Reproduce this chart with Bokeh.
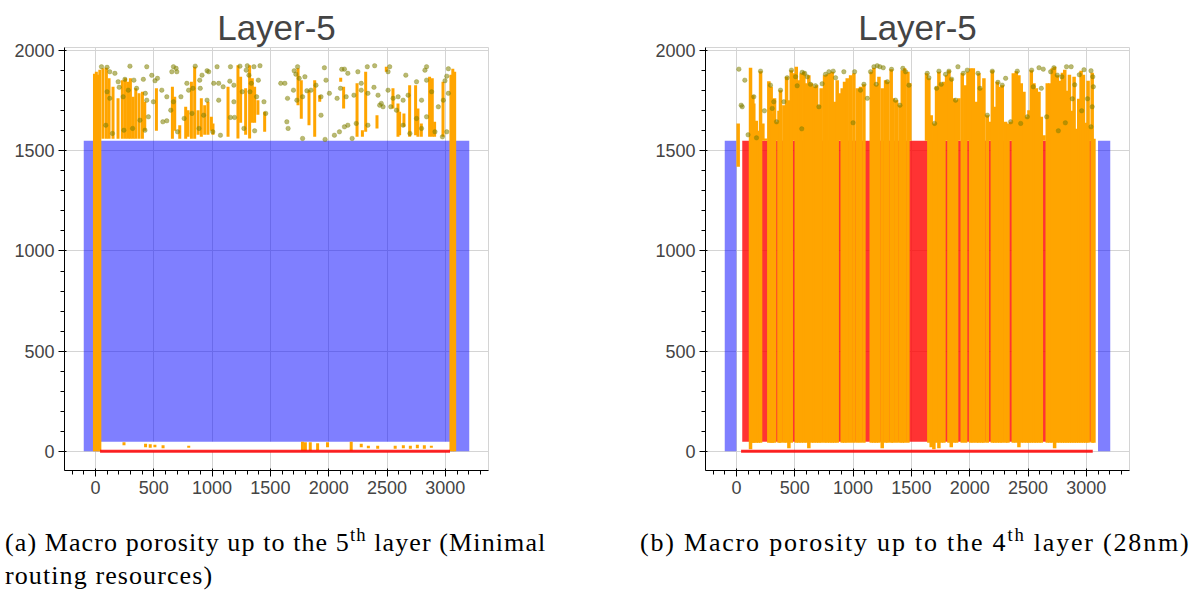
from bokeh.plotting import figure
from bokeh.models import Range1d, Div, ColumnDataSource, SingleIntervalTicker
from bokeh.layouts import column, row
from bokeh.embed import file_html
from bokeh.resources import INLINE

# ---------------- data ----------------
titles = ["Layer-5", "Layer-5"]
captions = [
    "(a) Macro porosity up to the 5<sup>th</sup> layer (Minimal<br>routing resources)",
    "(b) Macro porosity up to the 4<sup>th</sup> layer (28nm)",
]

# blue macro areas (left, right, bottom, top)
a_blue_left = [-100]
a_blue_right = [3205]
a_blue_bottom = [0]
a_blue_top = [1550]
b_blue_left = [-100, 3100]
b_blue_right = [0, 3205]
b_blue_bottom = [0, 0]
b_blue_top = [1550, 1550]

# white band (chart a) and red area (chart b)
a_white_left = [40]
a_white_right = [3040]
a_white_bottom = [0]
a_white_top = [48]
b_red_left = [50]
b_red_right = [3060]
b_red_bottom = [48]
b_red_top = [1550]

# red base line
a_base_x0 = [40]
a_base_x1 = [3040]
b_base_x0 = [40]
b_base_x1 = [3055]
base_y = [0]

# chart a orange segments
a_seg_x = [-8, 8, 24, 38,
           65, 94, 117, 151, 194, 231, 257, 280, 300, 323, 346, 374, 403, 423, 523, 660, 680, 723, 774, 794,
           823, 851, 880, 908, 937, 965, 994, 1008, 1137, 1222, 1245, 1288, 1322, 1345, 1365, 1393, 1451,
           1737, 1765, 1831, 1880, 1923, 2103, 2128, 2243, 2289, 2317, 2414, 2494, 2551, 2594, 2608, 2645,
           2694, 2745, 2765, 2794, 2865, 2888, 2908, 2980,
           3048, 3064, 3080,
           245, 430, 470, 510, 580, 800, 1775, 1800, 1842, 1905, 1990, 2193, 2279, 2340, 2420, 2570, 2640,
           2700, 2760, 2820, 2880]
a_seg_y0 = [0, 0, 0, 0,
            1560, 1560, 1560, 1560, 1560, 1560, 1560, 1560, 1560, 1560, 1560, 1560, 1560, 1600, 1600, 1560, 1600, 1560, 1560, 1570,
            1560, 1560, 1580, 1570, 1580, 1580, 1600, 1580, 1570, 1562, 1640, 1580, 1562, 1640, 1640, 1680, 1595,
            1728, 1660, 1628, 1570, 1745, 1845, 1712, 1570, 1570, 1595, 1612, 1895, 1712, 1570, 1578, 1620,
            1570, 1578, 1570, 1570, 1570, 1570, 1570, 1570,
            0, 0, 0,
            30, 20, 18, 20, 15, 18, 3, 3, 3, 5, 20, 3, 20, 15, 12, 12, 15,
            12, 15, 12, 18]
a_seg_y1 = [1885, 1895, 1880, 1905,
            1912, 1915, 1862, 1820, 1762, 1853, 1862, 1845, 1862, 1770, 1812, 1787, 1795, 1745, 1812, 1820, 1770, 1628, 1720, 1703,
            1845, 1920, 1703, 1762, 1728, 1745, 1670, 1637, 1820, 1928, 1870, 1812, 1928, 1862, 1820, 1753, 1695,
            1912, 1853, 1803, 1853, 1778, 1865, 1820, 1837, 1603, 1895, 1678, 1920, 1812, 1737, 1695, 1687,
            1828, 1828, 1712, 1637, 1870, 1862, 1645, 1845,
            1880, 1910, 1895,
            45, 38, 35, 32, 30, 28, 48, 45, 45, 40, 45, 48, 37, 28, 28, 28, 30,
            28, 32, 30, 28]

# chart a points
a_dot_x = [52, 100, 296, 440, 669, 692, 856, 957, 1043, 1158, 1239, 1302, 1359, 1411, 1733, 1704, 1963, 2135,
           2331, 2394, 2523, 2839, 2825, 3026,
           123, 167, 195, 253, 330, 411, 483, 532, 511, 655, 698, 784, 894, 914, 971, 1014, 1057, 1152, 1187,
           1293, 1316, 1336, 1397, 1624, 1718, 1747, 1796, 1813, 1891, 1977, 2112, 2164, 2250, 2279, 2388, 2509,
           2661, 2753, 2839, 2997, 3012,
           100, 123, 204, 238, 282, 353, 428, 440, 497, 569, 612, 669, 733, 799, 836, 899, 957, 1057, 1095, 1187,
           1259, 1325, 1382, 1445, 1589, 1647, 1698, 1727, 1776, 1848, 1934, 2006, 2072, 2101, 2150, 2216, 2279,
           2336, 2423, 2451, 2509, 2552, 2595, 2638, 2681, 2796, 2882, 2940, 2983, 3026,
           89, 146, 244, 319, 382, 425, 454, 578, 612, 646, 704, 761, 828, 888, 928, 1006, 1072, 1158, 1193, 1273,
           1365, 1460, 1641, 1652, 1776, 1934, 1969, 2049, 2092, 2135, 2164, 2201, 2236, 2336, 2437, 2466, 2532,
           2581, 2638, 2696, 2753, 2796, 2839, 2911, 2975, 3012]
a_dot_y = [1920, 1917, 1923, 1920, 1920, 1912, 1923, 1900, 1920, 1920, 1923, 1925, 1920, 1925, 1920, 1900, 1915, 1908,
           1920, 1925, 1920, 1920, 1903, 1910,
           1895, 1887, 1845, 1857, 1853, 1857, 1877, 1862, 1850, 1895, 1895, 1837, 1853, 1878, 1895, 1837, 1837, 1848, 1828,
           1903, 1878, 1837, 1853, 1837, 1883, 1862, 1870, 1800, 1828, 1853, 1907, 1887, 1895, 1837, 1817, 1895,
           1878, 1845, 1853, 1850, 1873,
           1795, 1762, 1817, 1770, 1803, 1812, 1787, 1753, 1745, 1803, 1770, 1745, 1770, 1803, 1812, 1812, 1753, 1753, 1820, 1745,
           1795, 1795, 1770, 1745, 1837, 1762, 1803, 1753, 1770, 1803, 1770, 1787, 1762, 1812, 1770, 1778, 1803,
           1787, 1778, 1737, 1803, 1762, 1770, 1753, 1778, 1753, 1795, 1720, 1753, 1787,
           1628, 1587, 1603, 1612, 1653, 1603, 1670, 1645, 1650, 1703, 1595, 1662, 1687, 1612, 1678, 1595, 1578, 1667, 1667, 1612,
           1600, 1687, 1645, 1612, 1562, 1678, 1557, 1578, 1595, 1620, 1628, 1562, 1637, 1628, 1728, 1720, 1720,
           1703, 1628, 1587, 1662, 1612, 1670, 1595, 1570, 1595]

# chart b orange segments
b_seg_x = [15, 121, 141, 149, 170, 188, 207, 227, 250, 278, 298, 307, 327, 344, 365, 378, 407, 430, 450, 470, 493,
           513, 535, 555, 578, 601, 621, 644, 664, 687, 707, 727, 756, 778, 801, 821, 841, 864, 884, 907, 927, 950,
           979, 1007, 1036, 1064, 1093,
           1156, 1179, 1199, 1222, 1250, 1279, 1299, 1327, 1344, 1373, 1402, 1422, 1442, 1470, 1487,
           1630, 1650, 1670, 1693, 1716, 1736, 1756, 1779, 1802, 1822, 1842, 1865, 1888, 1908, 1936, 1965, 1985,
           2008, 2031, 2059, 2079, 2102, 2122, 2151, 2174, 2194, 2214, 2236, 2259, 2279, 2308, 2328, 2351, 2374,
           2399, 2422, 2442, 2465, 2488, 2508, 2528, 2551, 2571, 2594, 2614, 2637, 2665, 2688, 2708, 2728, 2751,
           2775, 2795, 2815, 2835, 2855, 2875, 2895, 2915, 2935, 2955, 2975, 2995, 3015, 3035, 3050, 3065]
b_seg_y0 = [1420, 10, 42, 42, 42, 42, 42, 1550, 1550, 42, 42, 42, 42, 1550, 42, 42, 42, 42, 15, 42, 1550,
            42, 42, 42, 42, 42, 15, 42, 42, 42, 42, 42, 42, 42, 42, 42, 42, 42, 1550, 42, 42, 42,
            42, 42, 42, 42, 42,
            42, 42, 42, 42, 15, 42, 42, 42, 42, 42, 42, 42, 42, 42, 1550,
            1550, 42, 20, 10, 42, 15, 42, 42, 1550, 42, 20, 42, 42, 1550, 42, 42, 1550,
            42, 42, 42, 42, 42, 42, 42, 1550, 42, 42, 42, 42, 42, 42, 42, 1550, 42,
            42, 20, 42, 42, 42, 42, 42, 42, 42, 42, 42, 1550, 42, 42, 42, 15, 42,
            42, 42, 42, 42, 42, 42, 42, 42, 42, 42, 42, 42, 42, 1550, 42, 42]
b_seg_y1 = [1637, 1915, 1778, 1737, 1650, 1600, 1898, 1637, 1562, 1848, 1820, 1687, 1762, 1645, 1700, 1803, 1728, 1870, 1753, 1903, 1887,
            1920, 1853, 1887, 1895, 1837, 1878, 1837, 1820, 1828, 1728, 1812, 1878, 1882, 1887, 1895, 1745, 1853, 1787, 1812, 1845, 1862,
            1878, 1887, 1812, 1820, 1832,
            1895, 1915, 1828, 1870, 1812, 1853, 1845, 1908, 1762, 1753, 1728, 1903, 1912, 1895, 1837,
            1887, 1862, 1678, 1637, 1820, 1895, 1837, 1845, 1878, 1903, 1862, 1762, 1753, 1762, 1887, 1828, 1895,
            1912, 1912, 1745, 1887, 1812, 1862, 1678, 1645, 1903, 1720, 1845, 1820, 1828, 1645, 1637, 1645, 1887,
            1898, 1878, 1837, 1795, 1670, 1703, 1903, 1837, 1812, 1795, 1670, 1578, 1837, 1837, 1912, 1920, 1878,
            1850, 1890, 1905, 1800, 1880, 1700, 1870, 1610, 1760, 1900, 1880, 1640, 1850, 1620, 1890, 1560]

# chart b points
b_dot_x = [21, 72, 41, 50, 149, 172, 207, 292, 307, 320, 344, 378, 407, 435, 472, 507, 521, 564, 585, 607, 635, 678,
           707, 735, 764, 793, 830, 850, 921, 1013, 1064, 1093, 1122, 1150, 1179, 1199, 1207,
           1230, 1259, 1293, 1330, 1364, 1402, 1427, 1450, 1479, 1636, 1650, 1699, 1716, 1736, 1756, 1793, 1822,
           1845, 1879, 1899, 1945, 1979, 2071, 2088, 2151, 2194, 2242, 2279, 2308, 2351, 2408, 2437, 2494, 2531,
           2545, 2594, 2614, 2631, 2660, 2694, 2722, 2751,
           2790, 2830, 2870, 2900, 2940, 2980, 3010, 3040, 3055, 3050, 3040, 3060, 2960, 2880, 2820, 2760,
           1000, 560, 240, 100]
b_dot_y = [1908, 1853, 1728, 1720, 1770, 1565, 1898, 1828, 1712, 1745, 1645, 1803, 1745, 1865, 1903, 1870, 1825, 1892, 1887, 1870, 1832, 1825,
           1720, 1835, 1882, 1895, 1898, 1865, 1895, 1895, 1803, 1832, 1762, 1895, 1920, 1832, 1925,
           1920, 1915, 1845, 1907, 1753, 1728, 1912, 1895, 1828, 1887, 1865, 1637, 1812, 1898, 1832, 1882, 1898,
           1858, 1753, 1920, 1887, 1903, 1887, 1812, 1678, 1898, 1842, 1828, 1862, 1645, 1898, 1637, 1670, 1903,
           1820, 1915, 1812, 1908, 1670, 1895, 1915, 1878,
           1870, 1920, 1920, 1830, 1880, 1905, 1760, 1900, 1870, 1720, 1620, 1820, 1700, 1760, 1640, 1600,
           1640, 1610, 1700, 1580]

X_RANGE = (-265, 3370)
Y_RANGE = (-96, 2016)

SANS = "Liberation Sans"
SERIF = "Liberation Serif"


def make_fig(title, width, left, right):
    p = figure(width=width, height=510, output_backend="svg", toolbar_location=None,
               x_range=Range1d(*X_RANGE), y_range=Range1d(*Y_RANGE),
               min_border_left=left, min_border_right=right,
               min_border_top=47, min_border_bottom=40)
    p.title.text = title
    p.title.align = "center"
    p.title.text_font = SANS
    p.title.text_font_size = "35px"
    p.title.text_font_style = "normal"
    p.title.text_color = "#444444"
    p.title.standoff = 2
    p.xaxis.ticker = SingleIntervalTicker(interval=500, num_minor_ticks=5)
    p.yaxis.ticker = SingleIntervalTicker(interval=500, num_minor_ticks=5)
    for ax in (p.xaxis, p.yaxis):
        ax.major_label_text_font = SANS
        ax.major_label_text_font_size = "18px"
        ax.major_label_text_color = "#444444"
        ax.major_label_standoff = 4
        ax.axis_line_color = "black"
        ax.major_tick_line_color = "black"
        ax.minor_tick_line_color = "black"
    p.grid.grid_line_color = "#d4d4d4"
    p.outline_line_color = "#d4d4d4"
    return p


# ---------------- chart a ----------------
pa = make_fig(titles[0], 640, 64, 152)
pa.quad(left=a_blue_left, right=a_blue_right, bottom=a_blue_bottom, top=a_blue_top,
        fill_color="blue", fill_alpha=0.5, line_color=None)
pa.quad(left=a_white_left, right=a_white_right, bottom=a_white_bottom, top=a_white_top,
        fill_color="white", fill_alpha=1.0, line_color=None)
src_a = ColumnDataSource(dict(x=a_seg_x, y0=a_seg_y0, y1=a_seg_y1))
pa.segment(x0="x", y0="y0", x1="x", y1="y1", source=src_a, line_color="orange", line_width=3)
pa.segment(x0=a_base_x0, y0=base_y, x1=a_base_x1, y1=base_y, line_color="red", line_alpha=0.85, line_width=3)
pa.scatter(a_dot_x, a_dot_y, size=4.5, fill_color="olive", line_color="olive", fill_alpha=0.55, line_alpha=0.3)

# ---------------- chart b ----------------
pb = make_fig(titles[1], 560, 65, 71)
pb.quad(left=b_blue_left, right=b_blue_right, bottom=b_blue_bottom, top=b_blue_top,
        fill_color="blue", fill_alpha=0.5, line_color=None)
pb.quad(left=b_red_left, right=b_red_right, bottom=b_red_bottom, top=b_red_top,
        fill_color="red", fill_alpha=0.8, line_color=None)
src_b = ColumnDataSource(dict(x=b_seg_x, y0=b_seg_y0, y1=b_seg_y1))
pb.segment(x0="x", y0="y0", x1="x", y1="y1", source=src_b, line_color="orange", line_width=3.5)
pb.segment(x0=b_base_x0, y0=base_y, x1=b_base_x1, y1=base_y, line_color="red", line_alpha=0.85, line_width=3)
pb.scatter(b_dot_x, b_dot_y, size=4.5, fill_color="olive", line_color="olive", fill_alpha=0.55, line_alpha=0.3)


def caption(text, width, pad_left, spacing):
    style = ("font-family:'%s',serif;font-size:26px;line-height:33px;letter-spacing:%spx;"
             "color:#000;margin-top:16px;padding-left:%dpx;white-space:nowrap;") % (SERIF, spacing, pad_left)
    html = text.replace("<sup>", '<sup style="font-size:72%;line-height:0;vertical-align:0.55em;">')
    return Div(text='<div style="%s">%s</div>' % (style, html), width=width, height=93, margin=(0, 0, 0, 0))


cap_a = caption(captions[0], 640, 5, 1.1)
cap_b = caption(captions[1], 560, 0, 1.8)

layout = column(row(pa, pb, spacing=0), row(cap_a, cap_b, spacing=0), spacing=0)
open("out.html", "w").write(file_html(layout, INLINE))
